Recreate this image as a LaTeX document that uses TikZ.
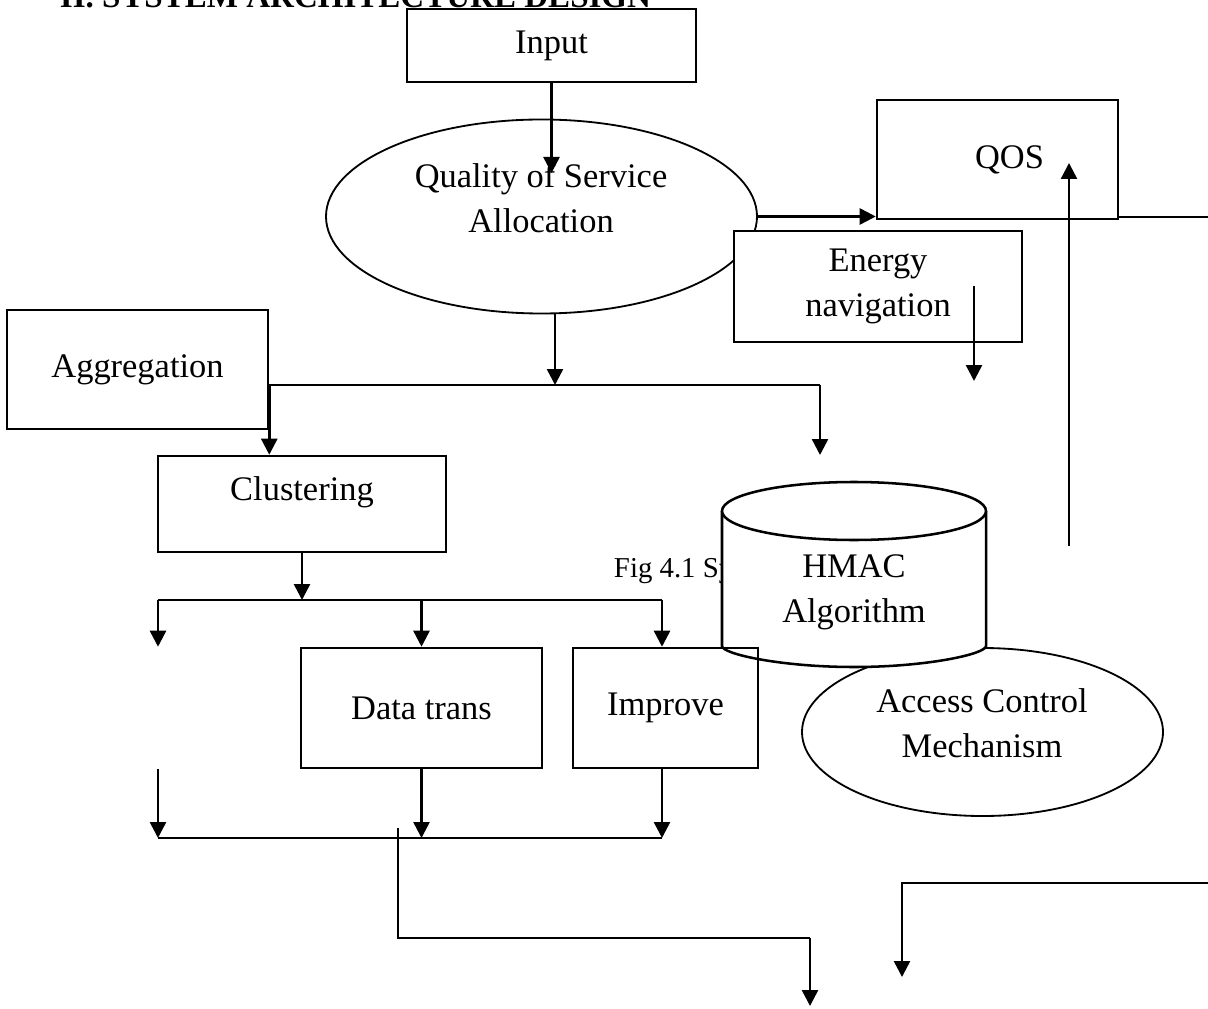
\documentclass[tikz,border=0pt]{standalone}
\usepackage{fontspec}
\setmainfont{Liberation Serif}
\usetikzlibrary{arrows.meta,shapes.geometric}

\begin{document}
\begin{tikzpicture}[x=0.25mm,y=0.25mm,
	font=\fontsize{24.5}{32}\selectfont,
	box/.style={draw,line width=1.8pt,inner sep=0pt,align=center},
	oval/.style={draw,ellipse,line width=1.3pt,inner sep=0pt},
	arr/.style={-{Triangle[length=4mm,width=4mm]},line width=1.8pt},
	wire/.style={line width=1.8pt}]

	\useasboundingbox (0,0) rectangle (1208,-1009);

	% heading, cut off by the page
	\node[anchor=base west,font=\fontsize{23.5}{28}\selectfont\bfseries] (title) at (55,-8) {II. SYSTEM ARCHITECTURE DESIGN};

	% input and allocation
	\node[box,minimum width=72.25mm,minimum height=18.25mm] (input) at (551.5,-45.5) {Input};
	\node[oval,minimum width=107.75mm,minimum height=48.5mm] (qsa) at (541.5,-216.5) {};
	\node[align=center] (qsatext) at (541,-198) {Quality of Service\\Allocation};
	\coordinate (intip) at (551.5,-173);
	\draw[arr] (input.south) -- (intip);

	% QOS
	\node[box,minimum width=60.25mm,minimum height=29.75mm] (qos) at (997.5,-159.5) {\hspace*{6mm}QOS};
	\draw[arr] (qsa.east) -- (qsa.east -| qos.west);
	\coordinate (qosout) at (1208,-217);
	\draw[line width=0.9pt] (qos.east |- qosout) -- (qosout);

	% energy navigation
	\node[box,fill=white,minimum width=72mm,minimum height=27.75mm] (energy) at (878,-286.5) {Energy\\navigation};
	\coordinate (entop) at (974,-286);
	\coordinate (enbot) at (974,-381);
	\draw[arr] (entop) -- (enbot);

	% feedback up to QOS
	\coordinate (upbot) at (1069,-546);
	\coordinate (uptop) at (1069,-163);
	\draw[arr] (upbot) -- (uptop);

	% aggregation and clustering
	\node[box,minimum width=65.25mm,minimum height=29.75mm] (agg) at (137.5,-369.5) {Aggregation};
	\node[box,minimum width=72mm,minimum height=24mm,text depth=7.75mm] (clu) at (302,-504) {Clustering};

	% first split
	\coordinate (bus) at (555,-385);
	\coordinate (busL) at (agg.east |- bus);
	\coordinate (busR) at (820,-385);
	\coordinate (hmacin) at (820,-455);
	\draw[arr] (qsa.south -| bus) -- (bus);
	\draw[wire] (busL) -- (busR);
	\draw[arr] (busL) -- (busL |- clu.north);
	\draw[arr] (busR) -- (hmacin);

	% caption, partly hidden
	\node[anchor=base west,font=\fontsize{20.5}{24}\selectfont] (fig) at (609,-577) {Fig 4.1 Sy};

	% access control
	\node[oval,minimum width=90.25mm,minimum height=42mm] (acm) at (982.5,-732) {};
	\node[align=center] (acmtext) at (982,-723) {Access Control\\Mechanism};

	% HMAC store
	\filldraw[line width=1.8pt,fill=white,rounded corners=2mm] (722,-511) -- (722,-638)
		arc[start angle=180,end angle=360,x radius=132,y radius=29] -- (986,-511);
	\filldraw[line width=1.8pt,fill=white] (986,-511)
		arc[start angle=0,end angle=360,x radius=132,y radius=29];
	\node[align=center] (hmac) at (854,-592) {HMAC\\Algorithm};

	% data trans and improve
	\node[box,minimum width=60.25mm,minimum height=30mm] (dat) at (421.5,-708) {Data trans};
	\node[box,minimum width=46.25mm,minimum height=30mm] (imp) at (665.5,-708) {Improve};

	% second split
	\coordinate (bus2) at (302,-600);
	\coordinate (b2L) at (158,-600);
	\coordinate (b2R) at (662,-600);
	\draw[arr] (clu.south) -- (bus2);
	\draw[wire] (b2L) -- (b2R);
	\draw[arr] (b2L) -- (b2L |- dat.north);
	\draw[arr] (dat.north |- b2L) -- (dat.north);
	\draw[arr] (b2R) -- (b2R |- imp.north);

	% join
	\coordinate (b3L) at (158,-838);
	\coordinate (b3R) at (662,-838);
	\draw[arr] (b3L |- dat.south) -- (b3L);
	\draw[arr] (dat.south) -- (dat.south |- b3L);
	\draw[arr] (b3R |- imp.south) -- (b3R);
	\draw[wire] (b3L) -- (b3R);

	% out
	\coordinate (outA) at (398,-828);
	\coordinate (outB) at (810,-938);
	\coordinate (outC) at (810,-1006);
	\draw[wire,line width=1.4pt] (outA) |- (outB);
	\draw[arr] (outB) -- (outC);

	% return from the right
	\coordinate (retA) at (1208,-883);
	\coordinate (retB) at (902,-977);
	\draw[arr] (retA) -| (retB);

\end{tikzpicture}
\end{document}
